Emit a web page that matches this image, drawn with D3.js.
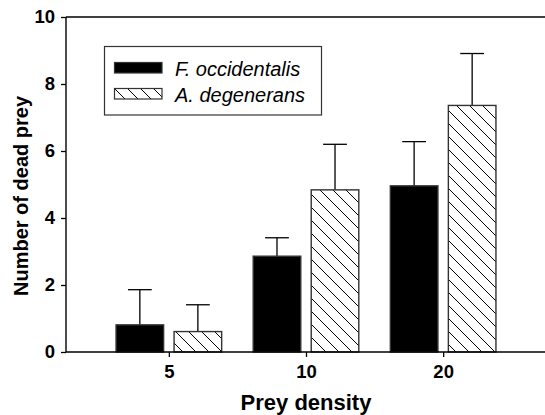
<!DOCTYPE html>
<html>
<head>
<meta charset="utf-8">
<script src="https://cdn.jsdelivr.net/npm/d3@7"></script>
<style>
  body { margin: 0; background: #fff; }
  svg { display: block; font-family: "Liberation Sans", Arial, sans-serif; }
</style>
</head>
<body>
<svg width="545" height="415"></svg>
<script>
// data
var categories = ["5", "10", "20"],
    seriesNames = ["F. occidentalis", "A. degenerans"],
    fOcc = [0.81, 2.86, 4.96],
    fOccErr = [1.05, 0.55, 1.32],
    aDeg = [0.61, 4.84, 7.36],
    aDegErr = [0.8, 1.36, 1.55],
    yTicks = [0, 2, 4, 6, 8, 10];

var svg = d3.select("svg"),
    mLeft = 66, mRight = 546, mTop = 17, mBottom = 352;

var x = d3.scaleLinear().domain([-0.75, 2.75]).range([mLeft, mRight]),
    y = d3.scaleLinear().domain([0, 10]).range([mBottom, mTop]);

var step = x(1) - x(0);
var inner = d3.scaleBand().domain(seriesNames)
    .range([-0.385 * step, 0.385 * step]).paddingInner(0.18);

// hatch pattern, lines running top-left to bottom-right
var hs = 13;
var defs = svg.append("defs");
var pat = defs.append("pattern")
    .attr("id", "hatch")
    .attr("patternUnits", "userSpaceOnUse")
    .attr("width", hs).attr("height", hs);
pat.append("rect").attr("width", hs).attr("height", hs).attr("fill", "#fff");
pat.append("path")
    .attr("d", "M-1,-1L" + (hs + 1) + "," + (hs + 1) + "M-2," + (hs - 2) + "L2," + (hs + 2) +
      "M" + (hs - 2) + ",-2L" + (hs + 2) + ",2")
    .attr("stroke", "#000").attr("stroke-width", 1.2).attr("shape-rendering", "crispEdges");

var series = [
  {name: seriesNames[0], vals: fOcc, err: fOccErr, fill: "#000"},
  {name: seriesNames[1], vals: aDeg, err: aDegErr, fill: "url(#hatch)"}
];

var rows = [];
series.forEach(function(s) {
  categories.forEach(function(c, i) {
    rows.push({name: s.name, i: i, v: s.vals[i], e: s.err[i], fill: s.fill});
  });
});

function cx(d) { return x(d.i) + inner(d.name) + inner.bandwidth() / 2; }

var g = svg.append("g");

// error bars (drawn first, bar covers the lower part)
var eb = g.selectAll(".err").data(rows).enter().append("g").attr("class", "err")
    .attr("stroke", "#000").attr("stroke-width", 1.3);
eb.append("line")
    .attr("x1", cx).attr("x2", cx)
    .attr("y1", function(d) { return y(d.v); })
    .attr("y2", function(d) { return y(d.v + d.e); });
eb.append("line")
    .attr("x1", function(d) { return cx(d) - inner.bandwidth() / 4; })
    .attr("x2", function(d) { return cx(d) + inner.bandwidth() / 4; })
    .attr("y1", function(d) { return y(d.v + d.e); })
    .attr("y2", function(d) { return y(d.v + d.e); });

g.selectAll(".bar").data(rows).enter().append("rect").attr("class", "bar")
    .attr("x", function(d) { return x(d.i) + inner(d.name); })
    .attr("width", inner.bandwidth())
    .attr("y", function(d) { return y(d.v); })
    .attr("height", function(d) { return y(0) - y(d.v); })
    .attr("fill", function(d) { return d.fill; })
    .attr("stroke", "#333").attr("stroke-width", 1.4);

// axes
var yAxis = svg.append("g").attr("transform", "translate(" + mLeft + ",0)")
    .call(d3.axisLeft(y).tickValues(yTicks).tickSize(5).tickPadding(6).tickFormat(d3.format("d")));
var xAxis = svg.append("g").attr("transform", "translate(0," + mBottom + ")")
    .call(d3.axisBottom(x).tickValues([0, 1, 2]).tickSize(5).tickPadding(8)
      .tickFormat(function(d) { return categories[d]; }));
[yAxis, xAxis].forEach(function(a) {
  a.attr("font-size", 18.5).attr("font-family", null);
  a.select(".domain").attr("stroke-width", 1.4);
  a.selectAll(".tick line").attr("stroke-width", 1.3);
  a.selectAll("text").attr("font-weight", "bold").attr("fill", "#000");
});
xAxis.select(".domain").attr("d", "M" + mLeft + ",0H" + mRight);
yAxis.select(".domain").attr("d", "M0," + mBottom + "V" + mTop);

// top frame line
svg.append("line").attr("x1", mLeft).attr("x2", mRight).attr("y1", mTop).attr("y2", mTop)
    .attr("stroke", "#000").attr("stroke-width", 1.4);

// axis titles
svg.append("text").attr("x", 306).attr("y", 410)
    .attr("text-anchor", "middle").attr("font-size", 22).attr("font-weight", "bold")
    .text("Prey density");
svg.append("text").attr("transform", "translate(28,196) rotate(-90)")
    .attr("text-anchor", "middle").attr("font-size", 20).attr("font-weight", "bold")
    .text("Number of dead prey");

// legend
var lg = svg.append("g");
lg.append("rect").attr("x", 104.5).attr("y", 46.5).attr("width", 217).attr("height", 68.5)
    .attr("fill", "#fff").attr("stroke", "#333").attr("stroke-width", 1.2);
var items = lg.selectAll(".item").data(series).enter().append("g")
    .attr("transform", function(d, i) { return "translate(0," + (i * 26) + ")"; });
items.append("rect").attr("x", 114.5).attr("y", 62.5).attr("width", 47.5).attr("height", 10.5)
    .attr("fill", function(d) { return d.fill; })
    .attr("stroke", "#333").attr("stroke-width", 1.2);
items.append("text").attr("x", 175).attr("y", 76)
    .attr("font-size", 20).attr("font-style", "italic")
    .text(function(d) { return d.name; });
</script>
</body>
</html>
